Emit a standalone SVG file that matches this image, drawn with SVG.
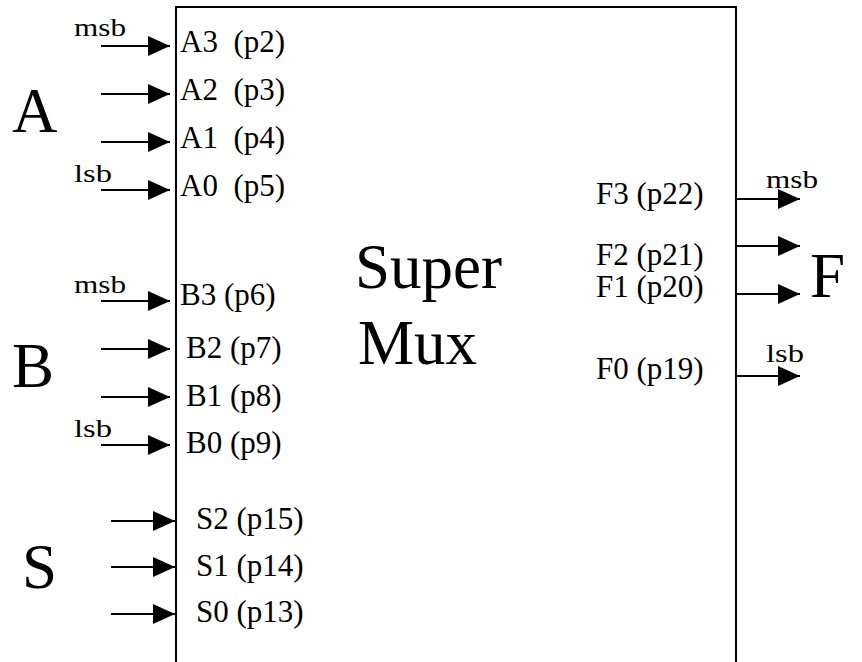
<svg xmlns="http://www.w3.org/2000/svg" width="862" height="662" viewBox="0 0 862 662">
<style>
.lbl{font-family:"Liberation Serif","Times New Roman",serif;font-size:31px;fill:#000}
.sm{font-family:"Liberation Serif","Times New Roman",serif;font-size:26px;fill:#000}
.big{font-family:"Liberation Serif","Times New Roman",serif;font-size:63px;fill:#000}
.w{stroke:#000;stroke-width:2;fill:none}
</style>
<defs>
<marker id="ah" markerUnits="userSpaceOnUse" markerWidth="24" markerHeight="20" refX="22" refY="10" orient="auto">
<path d="M0,0 L22,10 L0,20 Z" fill="#000"/>
</marker>
</defs>
<rect width="862" height="662" fill="#fff"/>
<g id="supermux">
<path d="M176,680 L176,7 L736,7 L736,680" class="w"/>
<text class="big" x="355" y="288">Super</text>
<text class="big" x="358" y="364">Mux</text>
</g>
<g id="groupA">
<text class="big" x="12" y="132">A</text>
<text class="sm" x="74" y="36" textLength="52" lengthAdjust="spacingAndGlyphs">msb</text>
<text class="sm" x="74" y="182" textLength="38" lengthAdjust="spacingAndGlyphs">lsb</text>
<text class="lbl" x="180" y="52" xml:space="preserve">A3  (p2)</text>
<text class="lbl" x="180" y="100" xml:space="preserve">A2  (p3)</text>
<text class="lbl" x="180" y="148" xml:space="preserve">A1  (p4)</text>
<text class="lbl" x="180" y="196" xml:space="preserve">A0  (p5)</text>
</g>
<g id="groupB">
<text class="big" x="12" y="387">B</text>
<text class="sm" x="74" y="293" textLength="52" lengthAdjust="spacingAndGlyphs">msb</text>
<text class="sm" x="74" y="437" textLength="38" lengthAdjust="spacingAndGlyphs">lsb</text>
<text class="lbl" x="180" y="305">B3 (p6)</text>
<text class="lbl" x="186" y="358">B2 (p7)</text>
<text class="lbl" x="186" y="406">B1 (p8)</text>
<text class="lbl" x="186" y="453">B0 (p9)</text>
</g>
<g id="groupS">
<text class="big" x="22" y="588">S</text>
<text class="lbl" x="196" y="529">S2 (p15)</text>
<text class="lbl" x="196" y="576">S1 (p14)</text>
<text class="lbl" x="196" y="622">S0 (p13)</text>
</g>
<g id="groupF">
<text class="big" x="810" y="297">F</text>
<text class="sm" x="766" y="188" textLength="52" lengthAdjust="spacingAndGlyphs">msb</text>
<text class="sm" x="766" y="362" textLength="38" lengthAdjust="spacingAndGlyphs">lsb</text>
<text class="lbl" x="596" y="204">F3 (p22)</text>
<text class="lbl" x="596" y="265">F2 (p21)</text>
<text class="lbl" x="596" y="297">F1 (p20)</text>
<text class="lbl" x="596" y="379">F0 (p19)</text>
</g>
<g id="connectors" class="w" marker-end="url(#ah)">
<line x1="101" y1="46" x2="170" y2="46"/>
<line x1="101" y1="94" x2="170" y2="94"/>
<line x1="101" y1="142" x2="170" y2="142"/>
<line x1="101" y1="190" x2="170" y2="190"/>
<line x1="101" y1="301" x2="170" y2="301"/>
<line x1="101" y1="349" x2="170" y2="349"/>
<line x1="101" y1="397" x2="170" y2="397"/>
<line x1="101" y1="445" x2="170" y2="445"/>
<line x1="111" y1="521" x2="175" y2="521"/>
<line x1="111" y1="567" x2="175" y2="567"/>
<line x1="111" y1="614" x2="175" y2="614"/>
<line x1="736" y1="199" x2="800" y2="199"/>
<line x1="736" y1="246" x2="800" y2="246"/>
<line x1="736" y1="294" x2="800" y2="294"/>
<line x1="736" y1="376" x2="800" y2="376"/>
</g>
</svg>
